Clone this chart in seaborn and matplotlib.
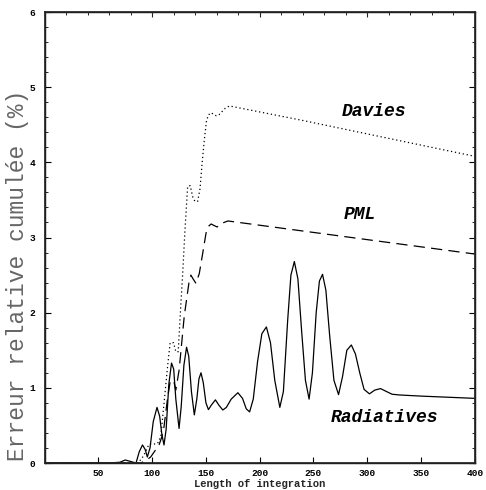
import numpy as np
import pandas as pd
import matplotlib
matplotlib.use("Agg")
import matplotlib.pyplot as plt
from matplotlib.ticker import MultipleLocator
import seaborn as sns

# ---- data ----
rad_x = [0, 60, 70, 75, 80, 85, 88, 91, 93.5, 95.5, 98, 101, 104.5, 107, 109, 111, 113, 115.5,
         118, 120, 122, 125, 127, 129.5, 132, 134, 136.5, 139.2, 141.5, 143.5, 145.4, 147.5,
         150, 152.3, 155, 158.8, 162, 165.7, 169, 173.5, 179.7, 184, 187.5, 190.6, 194, 198,
         202, 206.2, 210, 214, 218.7, 222, 226, 229, 232.2, 235.5, 239, 242.5, 245.9, 249,
         252.5, 255.5, 258.4, 261.5, 265, 269, 273.3, 277, 281, 285.2, 289, 293, 297, 302,
         307, 312.3, 318, 323, 330, 350, 375, 400]
rad_y = [0, 0, 0.01, 0.04, 0.02, 0.0, 0.15, 0.24, 0.18, 0.08, 0.2, 0.55, 0.74, 0.62, 0.38, 0.24,
         0.45, 1.05, 1.33, 1.25, 0.85, 0.46, 0.75, 1.3, 1.54, 1.42, 0.95, 0.64, 0.85, 1.12, 1.20,
         1.07, 0.8, 0.71, 0.77, 0.84, 0.77, 0.705, 0.74, 0.85, 0.935, 0.86, 0.72, 0.68, 0.85,
         1.35, 1.72, 1.81, 1.6, 1.1, 0.74, 0.95, 1.9, 2.5, 2.68, 2.45, 1.75, 1.1, 0.85, 1.2,
         2.0, 2.42, 2.51, 2.3, 1.7, 1.1, 0.91, 1.15, 1.5, 1.57, 1.45, 1.2, 0.98, 0.92, 0.97,
         0.99, 0.95, 0.915, 0.905, 0.89, 0.875, 0.86]

dav_x = [0, 80, 86, 90, 94, 97, 101, 105, 108, 111, 114.3, 116.7, 119.9, 122, 124.2, 126.7,
         128.3, 130.5, 133, 135.4, 137.7, 139.8, 142.3, 144.5, 146.5, 148.5, 150.5, 152.3,
         154.8, 157, 159.5, 162, 164, 168, 171.9, 239, 400]
dav_y = [0, 0, 0.0, 0.05, 0.15, 0.25, 0.25, 0.26, 0.35, 0.79, 1.28, 1.60, 1.60, 1.48, 1.48,
         2.12, 2.5, 3.1, 3.68, 3.69, 3.54, 3.48, 3.48, 3.65, 4.0, 4.30, 4.55, 4.63, 4.66,
         4.64, 4.62, 4.63, 4.66, 4.72, 4.75, 4.56, 4.08]

pml_x = [0, 85, 89.3, 94, 98.6, 102, 106.4, 109, 111, 114.3, 116.7, 119.9, 122, 125.1, 129.8,
         134.5, 136, 138, 140.7, 143.8, 147, 150.1, 152.5, 154.8, 157.5, 160.4, 165, 170.4, 400]
pml_y = [0, 0, 0, 0.03, 0.08, 0.15, 0.24, 0.35, 0.48, 0.86, 1.08, 1.10, 0.97, 1.24, 1.95,
         2.43, 2.5, 2.45, 2.39, 2.52, 2.79, 3.06, 3.15, 3.18, 3.16, 3.14, 3.19, 3.22, 2.78]

labels = ["Davies", "PML", "Radiatives"]
label_pos = [(306, 4.67), (293, 3.30), (316, 0.61)]

x_ticks = [50, 100, 150, 200, 250, 300, 350, 400]
y_ticks = [0, 1, 2, 3, 4, 5, 6]

# ---- plotting ----
sns.set_theme(style="white")
plt.rcParams["font.family"] = ["Liberation Mono", "DejaVu Sans Mono"]

fig = plt.figure(figsize=(4.86, 4.90), dpi=100)
ax = fig.add_axes([0.0918, 0.0551, 0.8852, 0.9204])

rad = pd.DataFrame({"x": rad_x, "y": rad_y})
dav = pd.DataFrame({"x": dav_x, "y": dav_y})
pml = pd.DataFrame({"x": pml_x, "y": pml_y})

sns.lineplot(data=rad, x="x", y="y", ax=ax, color="black", linewidth=0.9,
             estimator=None, sort=False)
sns.lineplot(data=dav, x="x", y="y", ax=ax, color="black", linewidth=0.9,
             estimator=None, sort=False, linestyle=(0, (1, 2.2)))
sns.lineplot(data=pml, x="x", y="y", ax=ax, color="black", linewidth=0.9,
             estimator=None, sort=False, linestyle=(0, (9, 5)))

for t, (tx, ty) in zip(labels, label_pos):
    ax.text(tx, ty, t, ha="center", va="center", fontsize=13,
            fontweight="bold", fontstyle="italic", color="black")

ax.set_xlim(0, 400)
ax.set_ylim(0, 6)

# top ticks via twin axis (different spacing than bottom)
ax2 = ax.twiny()
ax2.set_xlim(0, 400)
ax2.set_xticks([100, 200, 300])
ax2.xaxis.set_minor_locator(MultipleLocator(20))
ax2.tick_params(axis="x", which="major", direction="in", length=3.5, width=0.8,
                labeltop=False, top=True, bottom=False)
ax2.tick_params(axis="x", which="minor", direction="in", length=2.5, width=0.7,
                top=True, bottom=False)

ax.set_xticks(x_ticks)
ax.set_xticklabels([str(v) for v in x_ticks])
ax.set_yticks(y_ticks)
ax.set_yticklabels([str(v) for v in y_ticks])
ax.yaxis.set_minor_locator(MultipleLocator(0.2))

for s in ax.spines.values():
    s.set_visible(True)
    s.set_color("black")
    s.set_linewidth(1.0)

ax.tick_params(axis="both", which="major", direction="in", length=4, width=0.8,
               labelsize=6.8, colors="black", pad=7)
ax.tick_params(axis="y", which="both", right=True, left=True, direction="in")
ax.tick_params(axis="y", which="minor", length=2.5, width=0.7)
ax.tick_params(axis="x", which="both", top=False, bottom=True)
ax.tick_params(axis="x", pad=4)
for lab in ax.get_xticklabels() + ax.get_yticklabels():
    lab.set_fontweight("bold")

ax.set_xlabel("Length of integration", fontsize=7.6, fontweight="bold", labelpad=1)
ax.set_ylabel("Erreur relative cumulée (%)", fontsize=16.5, color="#666666")
ax.yaxis.set_label_coords(-0.036, 0.415)
ax.grid(False)

fig.savefig("out.png", dpi=100)
